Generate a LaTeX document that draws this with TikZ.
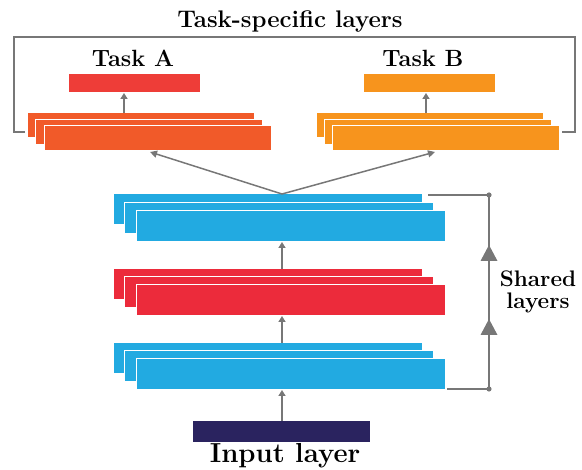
\documentclass[tikz,border=0pt]{standalone}
\usetikzlibrary{arrows.meta,calc}
\definecolor{gr}{HTML}{777777}
\definecolor{taskAtop}{HTML}{EE3D38}
\definecolor{taskA}{HTML}{F15A29}
\definecolor{taskB}{HTML}{F7941D}
\definecolor{sblue}{HTML}{22AAE1}
\definecolor{sred}{HTML}{EC2B3B}
\definecolor{navy}{HTML}{2A235F}
\tikzset{
  layer/.style={draw=white, line width=1pt, inner sep=0pt, outer sep=0pt, anchor=north west},
  arr/.style={draw=gr, line width=2pt, -{Triangle[width=7pt,length=6pt]}},
  thin arr/.style={draw=gr, line width=1.5pt, -{Triangle[width=7pt,length=7pt]}},
  bracket/.style={draw=gr, line width=1.6pt},
  lbl/.style={font=\bfseries, anchor=base, inner sep=0pt}
}
\begin{document}
\begin{tikzpicture}[x=1pt,y=-1pt]
\useasboundingbox (0,0) rectangle (582,470);
% bracket task-specific
\draw[bracket] (25,132) -- (14,132) -- (14,37) -- (575,37) -- (575,132) -- (562,132);
\node[lbl, font=\fontsize{24}{28}\bfseries\selectfont] (title) at (290,28) {Task-specific layers};
% Task A
\node[lbl, font=\fontsize{23.5}{28}\bfseries\selectfont] (tA) at (133,67) {Task A};
\node[layer, fill=taskAtop, minimum width=132pt, minimum height=19pt] (Abox) at (68,74) {};
\node[layer, fill=taskA, minimum width=227pt, minimum height=25pt] (Aback) at (27,113) {};
\node[layer, fill=taskA, minimum width=227pt, minimum height=25pt] (Amid) at (35.5,119.5) {};
\node[layer, fill=taskA, minimum width=227pt, minimum height=25pt] (Afront) at (44,126) {};
% Task B
\node[lbl, font=\fontsize{23.5}{28}\bfseries\selectfont] (tB) at (423,67) {Task B};
\node[layer, fill=taskB, minimum width=132pt, minimum height=19pt] (Bbox) at (363,74) {};
\node[layer, fill=taskB, minimum width=227pt, minimum height=25pt] (Bback) at (316,113) {};
\node[layer, fill=taskB, minimum width=227pt, minimum height=25pt] (Bmid) at (324,119.5) {};
\node[layer, fill=taskB, minimum width=227pt, minimum height=25pt] (Bfront) at (332,126) {};
% shared stack 1 (blue)
\node[layer, fill=sblue, minimum width=309pt, minimum height=31pt] (S1back) at (113,194) {};
\node[layer, fill=sblue, minimum width=309pt, minimum height=31pt] (S1mid) at (124.5,202.5) {};
\node[layer, fill=sblue, minimum width=309pt, minimum height=31pt] (S1front) at (136,211) {};
% shared stack 2 (red)
\node[layer, fill=sred, minimum width=309pt, minimum height=31pt] (S2back) at (113,269) {};
\node[layer, fill=sred, minimum width=309pt, minimum height=31pt] (S2mid) at (124.5,277) {};
\node[layer, fill=sred, minimum width=309pt, minimum height=31pt] (S2front) at (136,285) {};
% shared stack 3 (blue)
\node[layer, fill=sblue, minimum width=309pt, minimum height=31pt] (S3back) at (113,343) {};
\node[layer, fill=sblue, minimum width=309pt, minimum height=31pt] (S3mid) at (124.5,351) {};
\node[layer, fill=sblue, minimum width=309pt, minimum height=31pt] (S3front) at (136,359) {};
% input
\node[layer, draw=none, fill=navy, minimum width=177pt, minimum height=21pt] (inp) at (193,421) {};
\node[lbl, font=\fontsize{27.5}{30}\bfseries\selectfont] (inlbl) at (285,463) {Input layer};
% arrows
\coordinate (ca) at (124,113);
\coordinate (cb) at (426,113);
\draw[arr] (ca) -- (ca |- Abox.south);
\draw[arr] (cb) -- (cb |- Bbox.south);
\coordinate (m) at (282,194);
\coordinate (ta) at (150,152);
\coordinate (tb) at (435,152);
\draw[thin arr] (m) -- (ta);
\draw[thin arr] (m) -- (tb);
\coordinate (x1) at (282,269);
\draw[arr] (x1) -- (x1 |- S1front.south);
\coordinate (x2) at (282,343);
\draw[arr] (x2) -- (x2 |- S2front.south);
\coordinate (x3) at (282,421);
\draw[arr] (x3) -- (x3 |- S3front.south);
% shared bracket
\coordinate (st) at (489,195);
\coordinate (sb) at (489,389);
\draw[bracket, line width=2pt] (428,195) -- (st) -- (sb) -- (447,389);
\fill[gr] (st) circle (2.6pt);
\fill[gr] (sb) circle (2.6pt);
\fill[gr] (480.5,261) -- (489,245) -- (497.5,261) -- cycle;
\fill[gr] (480.5,335) -- (489,319) -- (497.5,335) -- cycle;
\node[font=\fontsize{22.5}{22}\bfseries\selectfont, align=center, inner sep=0pt] (shl) at (538,292) {Shared\\layers};
\end{tikzpicture}
\end{document}
